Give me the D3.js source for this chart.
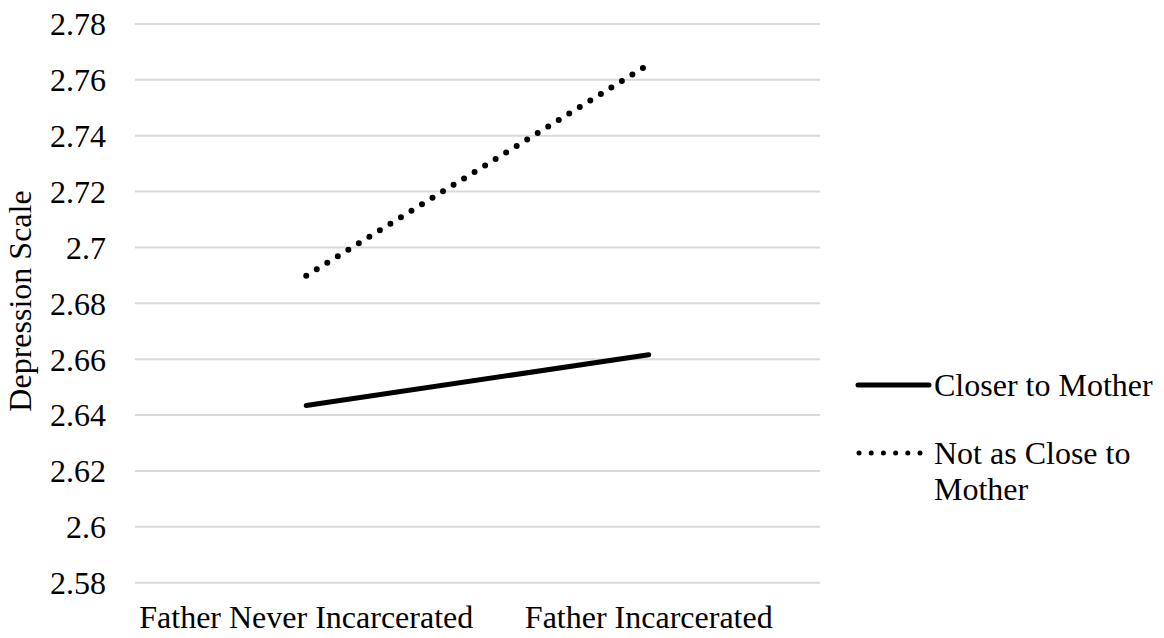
<!DOCTYPE html>
<html>
<head>
<meta charset="utf-8">
<script src="https://cdn.jsdelivr.net/npm/d3@7"></script>
<style>
  html, body { margin: 0; padding: 0; background: #fff; }
  svg { display: block; }
</style>
</head>
<body>
<svg id="chart" width="1164" height="638"></svg>
<script>
// Group means of the depression scale
const categories = ["Father Never Incarcerated", "Father Incarcerated"];
const closerToMother = [2.6434, 2.6616];
const notAsCloseToMother = [2.6899, 2.7655];
const yTicks = [2.58, 2.6, 2.62, 2.64, 2.66, 2.68, 2.7, 2.72, 2.74, 2.76, 2.78];
const seriesNames = ["Closer to Mother", "Not as Close to Mother"];

const svg = d3.select("#chart");
const fontFamily = "Liberation Serif";
const fontSize = 32;

const x = d3.scaleBand().domain(categories).range([135, 820]);
const y = d3.scaleLinear().domain([2.58, 2.78]).range([582.7, 24]);

// Horizontal gridlines
svg.append("g")
  .selectAll("line")
  .data(yTicks)
  .join("line")
  .attr("x1", x.range()[0])
  .attr("x2", x.range()[1])
  .attr("y1", d => y(d))
  .attr("y2", d => y(d))
  .attr("stroke", "#d9d9d9")
  .attr("stroke-width", 2);

// Y axis tick labels
const yAxis = d3.axisLeft(y).tickValues(yTicks).tickSize(0).tickPadding(0)
  .tickFormat(d => String(+d.toFixed(2)));
const gy = svg.append("g").attr("transform", "translate(106,0)").call(yAxis);
gy.select(".domain").remove();
gy.selectAll("text")
  .style("font-family", fontFamily)
  .style("font-size", fontSize + "px")
  .attr("fill", "#000")
  .attr("dy", "0.34em");

// X axis category labels
const xAxis = d3.axisBottom(x).tickSize(0).tickPadding(0);
const gx = svg.append("g").attr("transform", "translate(0,628)").call(xAxis);
gx.select(".domain").remove();
gx.selectAll("text")
  .style("font-family", fontFamily)
  .style("font-size", fontSize + "px")
  .attr("fill", "#000")
  .attr("y", 0)
  .attr("dy", 0);

// Y axis title
svg.append("text")
  .attr("transform", "translate(31,301) rotate(-90)")
  .attr("text-anchor", "middle")
  .style("font-family", fontFamily)
  .style("font-size", fontSize + "px")
  .attr("fill", "#000")
  .text("Depression Scale");

const line = d3.line()
  .x((d, i) => x(categories[i]) + x.bandwidth() / 2)
  .y(d => y(d));

// Series lines
svg.append("path")
  .datum(closerToMother)
  .attr("d", line)
  .attr("fill", "none")
  .attr("stroke", "#000")
  .attr("stroke-width", 5)
  .attr("stroke-linecap", "round");

svg.append("path")
  .datum(notAsCloseToMother)
  .attr("d", line)
  .attr("fill", "none")
  .attr("stroke", "#000")
  .attr("stroke-width", 6)
  .attr("stroke-linecap", "round")
  .attr("stroke-dasharray", "0 12.36");

// Legend
const legend = svg.append("g");
legend.append("line")
  .attr("x1", 858).attr("x2", 929)
  .attr("y1", 385).attr("y2", 385)
  .attr("stroke", "#000").attr("stroke-width", 5)
  .attr("stroke-linecap", "round");
legend.append("text")
  .attr("x", 934).attr("y", 385).attr("dy", "0.34em")
  .style("font-family", fontFamily)
  .style("font-size", fontSize + "px")
  .attr("fill", "#000")
  .text(seriesNames[0]);

legend.append("line")
  .attr("x1", 859).attr("x2", 921)
  .attr("y1", 453).attr("y2", 453)
  .attr("stroke", "#000").attr("stroke-width", 5)
  .attr("stroke-linecap", "round")
  .attr("stroke-dasharray", "0 12.2");
const t2 = legend.append("text")
  .attr("x", 934).attr("y", 453)
  .style("font-family", fontFamily)
  .style("font-size", fontSize + "px")
  .attr("fill", "#000");
t2.append("tspan").attr("x", 934).attr("dy", "0.34em").text("Not as Close to");
t2.append("tspan").attr("x", 934).attr("dy", 36).text("Mother");
</script>
</body>
</html>
